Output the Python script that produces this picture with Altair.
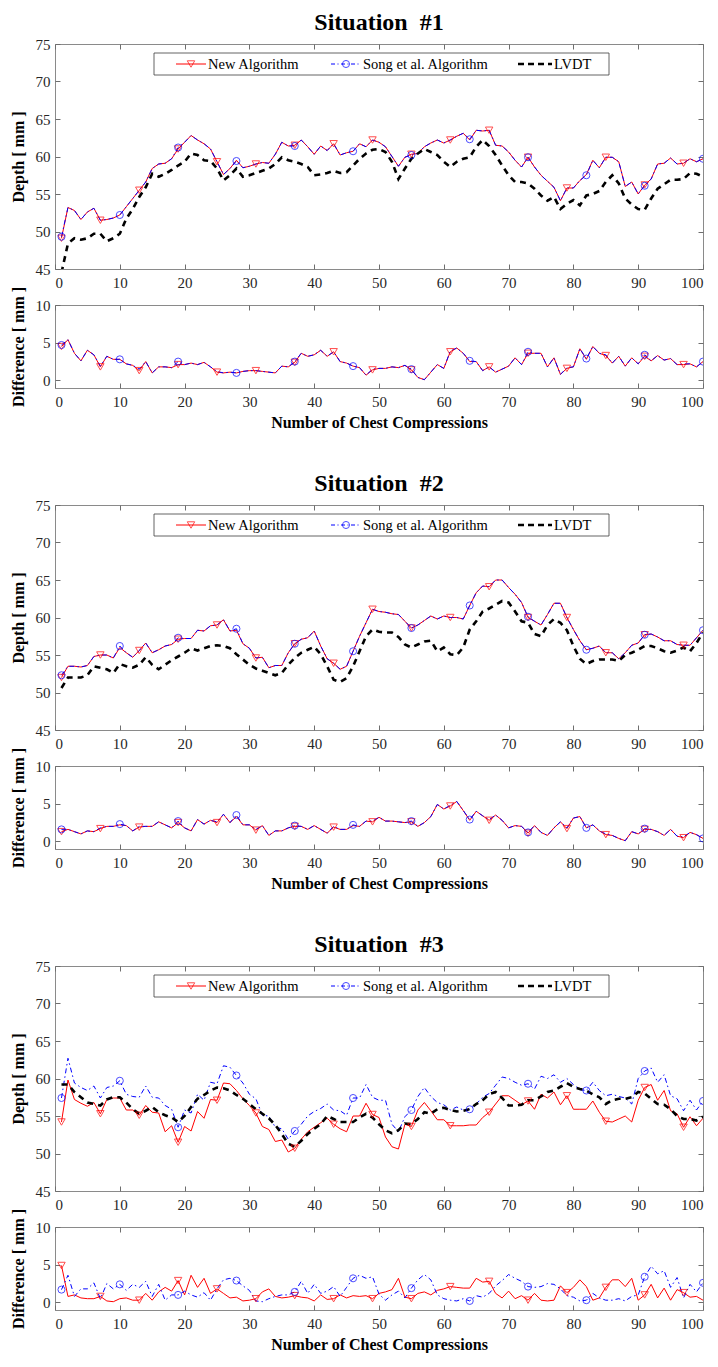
import altair as alt
import pandas as pd

FONT = "Liberation Serif"
RED = "#ff0000"
BLUE = "#0000ff"

X = list(range(1, 101))
X_TICKS = list(range(0, 101, 10))
DEPTH_TICKS = [45, 50, 55, 60, 65, 70, 75]
DIFF_TICKS = [0, 5, 10]
LEGEND_LABELS = ["New Algorithm", "Song et al. Algorithm", "LVDT"]
TITLES = ["Situation\u00a0\u00a0#1", "Situation\u00a0\u00a0#2", "Situation\u00a0\u00a0#3"]

# ---------------- Situation 1 ----------------
s1_new = [49.1, 53.2, 52.8, 51.6, 52.6, 53.1, 51.5, 51.6, 51.8, 52.2,
          53.3, 54.4, 55.5, 56.6, 58.4, 59.0, 59.1, 59.7, 61.0, 61.9,
          62.8, 62.2, 61.7, 61.0, 59.3, 57.6, 58.4, 59.5, 58.5, 58.7,
          59.0, 59.2, 59.1, 60.3, 61.9, 61.4, 61.5, 62.2, 61.3, 60.3,
          61.4, 60.8, 61.7, 60.2, 60.5, 60.7, 61.7, 61.3, 62.2, 61.9,
          61.3, 60.0, 58.7, 59.9, 60.3, 60.4, 61.3, 61.8, 62.2, 61.8,
          62.2, 62.7, 63.1, 62.2, 63.5, 63.4, 63.5, 61.5, 61.4, 60.6,
          59.5, 58.6, 59.9, 58.6, 57.5, 56.7, 55.9, 54.1, 55.8, 55.8,
          56.8, 57.6, 59.5, 58.5, 59.9, 59.9, 59.3, 56.0, 56.6, 55.0,
          56.2, 57.0, 59.0, 59.1, 59.8, 59.0, 59.1, 59.7, 59.3, 59.7]
s1_song = [49.3, 53.2, 52.8, 51.6, 52.6, 53.1, 51.5, 51.6, 51.8, 52.2,
           53.3, 54.4, 55.5, 56.6, 58.4, 59.0, 59.1, 59.7, 61.2, 61.9,
           62.8, 62.2, 61.7, 61.0, 59.3, 57.6, 58.4, 59.4, 58.5, 58.7,
           59.0, 59.2, 59.1, 60.3, 61.9, 61.4, 61.4, 62.2, 61.3, 60.3,
           61.4, 60.8, 61.7, 60.2, 60.5, 60.7, 61.7, 61.3, 62.2, 61.9,
           61.3, 60.0, 58.7, 59.9, 60.2, 60.4, 61.3, 61.8, 62.2, 61.8,
           62.2, 62.7, 63.1, 62.3, 63.5, 63.4, 63.5, 61.5, 61.4, 60.6,
           59.5, 58.6, 59.9, 58.6, 57.5, 56.7, 55.9, 54.1, 55.8, 55.8,
           56.8, 57.5, 59.5, 58.5, 59.9, 59.9, 59.3, 56.0, 56.6, 55.0,
           56.1, 57.0, 59.0, 59.1, 59.8, 59.0, 59.1, 59.7, 59.3, 59.7]
s1_lvdt = [44.5, 48.4, 49.1, 48.9, 49.1, 49.7, 49.7, 48.7, 49.1, 49.7,
           51.7, 53.0, 54.6, 55.9, 57.7, 57.3, 57.7, 58.2, 58.8, 59.3,
           60.4, 60.2, 59.5, 59.4, 58.4, 56.8, 57.5, 58.4, 57.3, 57.5,
           57.8, 58.1, 58.4, 59.0, 59.9, 59.5, 59.3, 59.0, 58.6, 57.5,
           57.6, 57.8, 58.1, 57.8, 57.9, 58.8, 59.7, 60.4, 60.9, 61.0,
           60.6, 59.3, 57.0, 58.4, 59.7, 60.4, 61.0, 60.6, 60.2, 59.3,
           58.6, 59.3, 59.7, 59.9, 61.3, 62.2, 61.4, 60.2, 58.8, 57.5,
           56.6, 56.6, 56.4, 55.7, 54.8, 54.1, 54.6, 53.0, 53.7, 54.2,
           53.5, 54.8, 55.0, 55.4, 56.6, 57.5, 56.4, 54.4, 53.6, 53.0,
           52.9, 54.4, 55.7, 56.3, 56.9, 56.9, 57.0, 57.8, 57.7, 57.3]
s1_dnew = [4.5, 5.4, 3.6, 2.6, 4.0, 3.4, 1.8, 3.2, 2.8, 2.8,
           2.2, 2.0, 1.3, 2.5, 1.0, 1.8, 1.8, 1.7, 2.1, 2.1,
           2.3, 2.1, 2.4, 1.8, 1.1, 1.0, 1.1, 1.0, 1.2, 1.3,
           1.3, 1.2, 1.1, 1.0, 1.9, 1.8, 2.4, 3.6, 3.2, 3.4,
           4.0, 3.2, 3.8, 2.5, 2.3, 1.9, 1.7, 0.7, 1.4, 1.6,
           1.6, 1.8, 1.7, 2.0, 1.4, 0.4, 0.1, 1.1, 2.1, 1.6,
           3.8, 4.3, 3.6, 2.5, 2.5, 1.3, 1.8, 1.1, 1.5, 1.9,
           3.0, 2.1, 3.6, 3.6, 3.6, 1.8, 3.0, 0.8, 1.6, 1.8,
           4.2, 2.8, 4.5, 3.6, 3.3, 2.3, 3.2, 1.9, 3.0, 2.2,
           3.2, 2.6, 3.3, 2.7, 2.9, 2.1, 2.1, 2.2, 1.8, 2.5]
s1_dsong = [4.7, 5.4, 3.6, 2.6, 4.0, 3.4, 1.9, 3.2, 2.8, 2.8,
            2.2, 2.0, 1.5, 2.5, 1.0, 1.8, 1.8, 1.7, 2.5, 2.1,
            2.3, 2.1, 2.4, 1.8, 1.2, 1.0, 1.1, 1.0, 1.2, 1.3,
            1.3, 1.2, 1.1, 1.0, 1.9, 1.8, 2.5, 3.6, 3.2, 3.4,
            4.0, 3.2, 3.8, 2.5, 2.3, 1.9, 1.7, 0.7, 1.5, 1.6,
            1.6, 1.8, 1.7, 2.0, 1.5, 0.4, 0.1, 1.1, 2.1, 1.6,
            3.9, 4.3, 3.6, 2.6, 2.5, 1.3, 1.8, 1.1, 1.5, 1.9,
            3.0, 2.1, 3.8, 3.6, 3.6, 1.8, 3.0, 0.8, 1.7, 1.8,
            4.2, 2.9, 4.5, 3.6, 3.4, 2.3, 3.2, 1.9, 3.0, 2.2,
            3.4, 2.6, 3.3, 2.7, 2.9, 2.1, 2.2, 2.2, 1.8, 2.5]

# ---------------- Situation 2 ----------------
s2_new = [52.0, 53.5, 53.5, 53.4, 53.6, 54.8, 55.0, 55.0, 54.6, 56.0,
          55.3, 54.7, 55.6, 56.6, 55.3, 55.7, 56.2, 56.4, 57.1, 57.2,
          57.2, 58.3, 58.2, 58.9, 59.0, 59.7, 58.2, 58.3, 56.5, 55.9,
          54.6, 54.7, 53.3, 53.6, 53.6, 55.3, 56.5, 57.1, 57.3, 58.2,
          56.2, 54.5, 53.9, 53.1, 53.5, 55.5, 57.5, 59.3, 61.1, 60.8,
          60.7, 60.5, 60.4, 59.5, 58.6, 59.0, 59.6, 60.2, 59.8, 60.2,
          60.0, 60.0, 59.8, 61.6, 63.3, 64.2, 64.1, 65.0, 65.0, 64.0,
          63.1, 62.0, 60.0, 59.5, 59.0, 60.4, 61.9, 61.9, 60.0, 58.4,
          56.9, 55.7, 55.9, 56.2, 55.3, 55.3, 54.5, 55.3, 56.3, 56.6,
          57.7, 57.8, 57.4, 56.9, 56.9, 56.4, 56.3, 56.3, 57.3, 58.3]
s2_song = [52.3, 53.5, 53.5, 53.4, 53.6, 54.8, 55.0, 55.0, 54.6, 56.2,
           55.3, 54.7, 55.6, 56.6, 55.3, 55.7, 56.2, 56.4, 57.3, 57.2,
           57.2, 58.3, 58.2, 58.9, 59.0, 59.7, 58.2, 58.5, 56.5, 55.9,
           54.6, 54.7, 53.3, 53.6, 53.6, 55.3, 56.5, 57.1, 57.3, 58.2,
           56.2, 54.5, 53.9, 53.1, 53.5, 55.5, 57.5, 59.3, 61.1, 60.8,
           60.7, 60.5, 60.4, 59.5, 58.6, 59.0, 59.6, 60.2, 59.8, 60.2,
           60.0, 60.0, 59.8, 61.6, 63.3, 64.2, 64.1, 65.0, 65.0, 64.0,
           63.1, 62.0, 60.1, 59.5, 59.0, 60.4, 61.9, 61.9, 60.0, 58.4,
           56.9, 55.7, 55.9, 56.2, 55.3, 55.3, 54.5, 55.3, 56.3, 56.6,
           57.7, 57.8, 57.4, 56.9, 56.9, 56.4, 56.3, 56.3, 57.3, 58.3]
s2_lvdt = [50.6, 52.0, 52.0, 52.0, 52.3, 53.5, 53.3, 53.1, 52.6, 53.8,
           53.5, 53.3, 53.7, 54.7, 53.7, 53.1, 53.7, 54.3, 54.8, 55.3,
           55.9, 55.6, 55.9, 56.2, 56.3, 56.2, 55.9, 55.1, 54.4, 53.7,
           53.2, 52.9, 52.6, 52.3, 52.6, 53.7, 54.6, 55.3, 55.7, 56.1,
           55.1, 53.5, 51.7, 51.4, 51.9, 53.5, 55.5, 57.5, 58.4, 58.1,
           58.0, 58.0, 57.4, 56.4, 56.0, 56.4, 56.8, 56.9, 55.5, 56.0,
           55.1, 55.0, 56.0, 58.4, 59.5, 60.8, 61.2, 61.7, 62.2, 62.0,
           60.8, 59.5, 59.3, 57.8, 57.5, 59.0, 59.8, 59.3, 58.3, 56.2,
           54.5, 53.8, 54.2, 54.4, 54.4, 54.4, 54.2, 55.0, 55.3, 55.7,
           56.2, 56.2, 55.9, 55.5, 55.3, 55.6, 56.0, 55.5, 56.6, 58.0]
s2_dnew = [1.3, 1.6, 1.3, 1.0, 1.4, 1.3, 1.7, 2.0, 2.0, 2.2,
           2.1, 1.4, 1.9, 2.0, 2.0, 2.6, 2.2, 1.8, 2.5, 1.8,
           1.4, 2.9, 2.3, 2.8, 2.5, 3.6, 2.5, 3.3, 2.2, 2.2,
           1.5, 2.1, 0.8, 1.4, 1.4, 1.8, 2.0, 2.0, 1.6, 2.1,
           1.6, 1.1, 1.9, 1.6, 1.6, 2.1, 2.0, 2.7, 2.6, 3.2,
           2.7, 2.7, 2.6, 2.5, 2.6, 2.0, 2.5, 3.3, 4.9, 4.3,
           4.7, 5.3, 4.1, 2.8, 4.0, 3.4, 2.8, 3.5, 2.8, 1.8,
           2.1, 2.0, 1.1, 2.1, 1.2, 0.8, 1.8, 2.6, 1.7, 3.1,
           3.3, 1.8, 2.2, 1.4, 0.9, 0.8, 0.4, 0.1, 1.3, 1.0,
           1.6, 1.6, 1.3, 0.8, 1.6, 0.7, 0.5, 1.2, 0.9, 0.4]
s2_dsong = [1.6, 1.6, 1.3, 1.0, 1.4, 1.3, 1.8, 2.0, 2.0, 2.3,
            2.1, 1.4, 2.0, 2.0, 2.0, 2.6, 2.2, 1.8, 2.7, 1.8,
            1.4, 2.9, 2.3, 2.8, 2.6, 3.6, 2.5, 3.5, 2.2, 2.2,
            1.6, 2.1, 0.8, 1.4, 1.4, 1.8, 2.1, 2.0, 1.6, 2.1,
            1.6, 1.1, 2.0, 1.6, 1.6, 2.2, 2.0, 2.7, 2.7, 3.2,
            2.7, 2.7, 2.6, 2.5, 2.7, 2.0, 2.5, 3.3, 4.9, 4.3,
            4.8, 5.3, 4.1, 2.9, 4.0, 3.4, 2.9, 3.5, 2.8, 1.8,
            2.1, 2.0, 1.2, 2.1, 1.2, 0.8, 1.8, 2.6, 1.8, 3.1,
            3.3, 1.8, 2.2, 1.4, 1.0, 0.8, 0.4, 0.1, 1.3, 1.0,
            1.7, 1.6, 1.3, 0.8, 1.6, 0.7, 0.6, 1.2, 0.9, 0.4]

# ---------------- Situation 3 ----------------
s3_new = [54.2, 59.8, 57.2, 56.7, 56.3, 56.8, 55.3, 57.2, 57.4, 57.4,
          55.8, 55.8, 55.1, 56.4, 55.5, 55.4, 52.9, 53.7, 51.5, 53.6,
          53.0, 55.6, 54.7, 57.2, 57.1, 59.4, 59.3, 58.4, 57.3, 56.4,
          55.4, 53.6, 53.2, 51.6, 51.8, 50.2, 50.7, 51.9, 52.9, 53.5,
          54.1, 54.7, 53.9, 53.3, 52.9, 55.0, 55.0, 56.7, 55.2, 54.8,
          52.2, 50.9, 50.6, 53.9, 53.6, 55.8, 56.8, 55.7, 54.5, 54.5,
          53.7, 53.7, 53.7, 53.8, 53.8, 54.8, 55.5, 56.6, 57.7, 57.7,
          57.1, 56.5, 57.0, 55.9, 57.9, 57.4, 58.2, 56.5, 57.7, 55.9,
          55.9, 55.9, 57.0, 55.5, 54.3, 54.2, 54.6, 55.0, 54.2, 57.1,
          58.8, 59.2, 57.1, 58.4, 55.7, 55.3, 53.5, 54.9, 53.7, 54.7]
s3_song = [57.4, 62.7, 59.4, 58.8, 58.4, 59.0, 57.4, 58.8, 59.0, 59.7,
           57.9, 57.6, 57.5, 59.0, 57.5, 57.4, 56.4, 55.9, 53.5, 55.8,
           55.4, 57.9, 57.1, 59.5, 59.3, 61.7, 61.5, 60.4, 59.4, 57.9,
           57.3, 55.1, 55.0, 53.5, 53.3, 51.9, 53.0, 53.9, 55.0, 55.6,
           56.0, 56.6, 55.8, 55.7, 55.1, 57.4, 57.4, 59.2, 57.5, 57.1,
           57.1, 53.9, 52.9, 54.9, 55.8, 57.6, 58.8, 57.6, 56.8, 56.5,
           55.8, 56.2, 55.8, 55.9, 56.6, 57.5, 58.0, 59.1, 60.2, 60.0,
           59.5, 59.1, 59.3, 58.6, 60.3, 60.0, 60.5, 59.5, 60.0, 59.2,
           58.5, 58.4, 59.5, 58.4, 57.7, 57.9, 57.6, 57.4, 56.6, 60.0,
           61.0, 61.4, 59.5, 60.5, 57.7, 57.3, 55.7, 57.1, 55.8, 57.0]
s3_lvdt = [59.2, 59.2, 58.2, 57.5, 56.8, 56.6, 56.4, 57.2, 57.5, 57.5,
           56.8, 55.9, 55.3, 55.7, 56.2, 55.5, 55.1, 54.8, 54.2, 55.0,
           56.2, 57.3, 57.8, 58.4, 58.8, 58.7, 58.4, 57.8, 57.3, 56.6,
           55.9, 55.3, 54.7, 53.8, 52.6, 51.3, 50.9, 51.7, 52.6, 53.3,
           53.9, 55.0, 54.6, 54.2, 54.2, 54.2, 54.8, 55.3, 54.8, 53.9,
           53.1, 52.7, 53.1, 54.0, 53.9, 54.6, 55.5, 55.3, 55.9, 56.1,
           55.8, 55.6, 55.7, 55.9, 56.6, 57.1, 57.9, 58.2, 57.4, 56.4,
           56.4, 56.5, 57.1, 57.1, 57.6, 58.2, 58.4, 58.9, 59.4, 58.9,
           58.6, 58.4, 57.9, 57.5, 56.6, 57.1, 57.3, 57.3, 57.5, 58.2,
           58.0, 57.3, 56.6, 56.5, 55.9, 55.0, 54.6, 54.6, 54.4, 54.9]
s3_dnew = [4.9, 0.8, 1.0, 0.6, 0.5, 0.5, 0.8, 0.2, 0.1, 0.5,
           0.6, 0.3, 0.3, 1.2, 0.3, 1.4, 2.0, 1.5, 2.9, 1.0,
           3.6, 2.0, 3.2, 1.2, 1.8, 1.2, 0.6, 0.7, 0.2, 0.3,
           0.5, 1.4, 1.8, 0.8, 0.6, 0.7, 0.9, 0.7, 0.6, 0.2,
           1.0, 0.4, 0.5, 1.0, 0.6, 0.9, 0.8, 0.9, 0.5, 1.2,
           1.4, 1.7, 3.2, 0.7, 0.5, 1.2, 1.4, 1.0, 1.6, 1.8,
           2.1, 2.0, 1.9, 1.9, 3.2, 2.7, 2.8, 1.2, 0.6, 1.5,
           0.5, 0.9, 0.3, 1.2, 0.3, 0.2, 0.3, 2.2, 1.3, 2.0,
           3.0, 2.1, 0.3, 0.6, 2.0, 3.0, 3.0, 2.1, 3.2, 0.3,
           1.0, 2.4, 0.6, 1.9, 0.3, 1.7, 1.3, 0.7, 0.8, 0.3]
s3_dsong = [1.7, 3.6, 0.8, 1.8, 1.8, 2.6, 0.5, 2.5, 1.8, 2.4,
            1.6, 2.4, 2.0, 2.8, 0.8, 2.4, 0.3, 1.0, 1.0, 1.5,
            1.0, 0.7, 1.3, 0.3, 1.8, 3.0, 3.2, 2.9, 2.2, 1.6,
            0.2, 0.1, 0.5, 0.8, 1.0, 1.0, 1.4, 2.8, 1.2, 2.4,
            1.2, 1.5, 2.1, 0.8, 2.0, 3.2, 3.6, 3.2, 3.4, 1.1,
            0.3, 1.0, 1.5, 0.6, 1.9, 3.0, 3.7, 3.0, 1.0, 0.5,
            0.3, 0.2, 0.5, 0.2, 0.9, 0.7, 1.2, 2.2, 2.9, 3.7,
            3.2, 2.8, 2.1, 2.0, 2.1, 2.5, 2.4, 1.8, 0.9, 0.7,
            0.2, 0.3, 1.2, 0.6, 0.3, 0.3, 0.5, 0.2, 0.8, 1.0,
            3.4, 4.8, 3.8, 4.2, 2.0, 3.3, 0.6, 2.4, 1.4, 2.6]

# ---------------- styling helpers ----------------
W = 648
H_DEPTH = 225
H_DIFF = 83
LABELS = dict(labelFont=FONT, labelFontSize=15, labelColor="#262626")
TICKS = dict(tickColor="#6e6e6e", tickSize=5, tickWidth=1, domain=False,
             grid=False, offset=-5)
TITLE_STYLE = dict(titleFont=FONT, titleFontSize=16, titleFontWeight="bold",
                   titleColor="black")

XS = alt.Scale(domain=[0, 100], nice=False, zero=False)


def x_main(title=None):
    return alt.X("x:Q", scale=XS, axis=alt.Axis(values=X_TICKS, labelPadding=6,
                                                title=title, titlePadding=5,
                                                format="d", **LABELS, **TICKS,
                                                **TITLE_STYLE))


def x_top():
    return alt.X("x:Q", scale=XS, axis=alt.Axis(orient="top", values=X_TICKS,
                                                labels=False, title=None, **TICKS))


def x_none():
    return alt.X("x:Q", scale=XS, axis=None)


def y_main(field, ys, vals, title):
    return alt.Y(f"{field}:Q", scale=ys, axis=alt.Axis(values=vals, labelPadding=5,
                                                      title=title, titlePadding=9,
                                                      format="d", **LABELS, **TICKS,
                                                      **TITLE_STYLE))


def y_right(field, ys, vals):
    return alt.Y(f"{field}:Q", scale=ys, axis=alt.Axis(orient="right", values=vals,
                                                      labels=False, title=None, **TICKS))


def y_none(field, ys):
    return alt.Y(f"{field}:Q", scale=ys, axis=None)


def legend_layers():
    one = alt.Chart(pd.DataFrame({"k": [0]}))
    box = one.mark_rect(fill="white", stroke="#3c3c3c", strokeWidth=0.8).encode(
        x=alt.value(99), x2=alt.value(554), y=alt.value(9), y2=alt.value(31))
    ly = 20
    l1 = one.mark_rule(color=RED, strokeWidth=1).encode(
        x=alt.value(121), x2=alt.value(151), y=alt.value(ly))
    p1 = one.mark_point(shape="triangle-down", color=RED, filled=False, size=55,
                        strokeWidth=1).encode(x=alt.value(136), y=alt.value(ly))
    t1 = one.mark_text(text=LEGEND_LABELS[0], align="left", baseline="middle",
                       font=FONT, fontSize=14.5, color="black").encode(
        x=alt.value(153), y=alt.value(ly + 1))
    l2 = one.mark_rule(color=BLUE, strokeWidth=1, strokeDash=[4, 2.5, 1, 2.5]).encode(
        x=alt.value(276), x2=alt.value(306), y=alt.value(ly))
    p2 = one.mark_point(shape="circle", color=BLUE, filled=False, size=50,
                        strokeWidth=1).encode(x=alt.value(291), y=alt.value(ly))
    t2 = one.mark_text(text=LEGEND_LABELS[1], align="left", baseline="middle",
                       font=FONT, fontSize=14.5, color="black").encode(
        x=alt.value(308), y=alt.value(ly + 1))
    l3 = one.mark_rule(color="black", strokeWidth=2.5, strokeDash=[6, 4]).encode(
        x=alt.value(463), x2=alt.value(497), y=alt.value(ly))
    t3 = one.mark_text(text=LEGEND_LABELS[2], align="left", baseline="middle",
                       font=FONT, fontSize=14.5, color="black").encode(
        x=alt.value(499), y=alt.value(ly + 1))
    return [box, l1, p1, t1, l2, p2, t2, l3, t3]


def depth_panel(title, new, song, lvdt):
    df = pd.DataFrame({"x": X, "New": new, "Song": song, "LVDT": lvdt})
    ys = alt.Scale(domain=[45, 75], nice=False, zero=False)
    base = alt.Chart(df)
    red = base.mark_line(color=RED, strokeWidth=1, clip=True).encode(
        x=x_top(), y=y_right("New", ys, DEPTH_TICKS))
    blue = base.mark_line(color=BLUE, strokeWidth=1, strokeDash=[5, 3, 1.5, 3],
                          clip=True).encode(x=x_none(), y=y_none("Song", ys))
    black = base.mark_line(color="black", strokeWidth=2.6, strokeDash=[6, 5],
                           clip=True).encode(
        x=x_main(), y=y_main("LVDT", ys, DEPTH_TICKS, "Depth [ mm ]"))
    tri = base.transform_filter("(datum.x - 1) % 6 == 0").mark_point(
        shape="triangle-down", color=RED, filled=False, size=55, strokeWidth=1,
        clip=True).encode(x=x_none(), y=y_none("New", ys))
    circ = base.transform_filter("(datum.x - 1) % 9 == 0").mark_point(
        shape="circle", color=BLUE, filled=False, size=50, strokeWidth=1,
        clip=True).encode(x=x_none(), y=y_none("Song", ys))
    layers = [red, blue, black, tri, circ] + legend_layers()
    return alt.layer(*layers).resolve_axis(x="independent", y="independent").properties(
        width=W, height=H_DEPTH,
        title=alt.TitleParams(text=title, font=FONT, fontSize=24, fontWeight="bold",
                              color="black", anchor="middle", frame="group", offset=2))


def diff_panel(dnew, dsong):
    df = pd.DataFrame({"x": X, "New": dnew, "Song": dsong})
    ys = alt.Scale(domain=[-1, 10], nice=False, zero=False)
    base = alt.Chart(df)
    red = base.mark_line(color=RED, strokeWidth=1, clip=True).encode(
        x=x_top(), y=y_right("New", ys, DIFF_TICKS))
    blue = base.mark_line(color=BLUE, strokeWidth=1, strokeDash=[5, 3, 1.5, 3],
                          clip=True).encode(
        x=x_main("Number of Chest Compressions"),
        y=y_main("Song", ys, DIFF_TICKS, "Difference [ mm ]"))
    tri = base.transform_filter("(datum.x - 1) % 6 == 0").mark_point(
        shape="triangle-down", color=RED, filled=False, size=55, strokeWidth=1,
        clip=True).encode(x=x_none(), y=y_none("New", ys))
    circ = base.transform_filter("(datum.x - 1) % 9 == 0").mark_point(
        shape="circle", color=BLUE, filled=False, size=50, strokeWidth=1,
        clip=True).encode(x=x_none(), y=y_none("Song", ys))
    return alt.layer(red, blue, tri, circ).resolve_axis(
        x="independent", y="independent").properties(width=W, height=H_DIFF)


def situation(title, new, song, lvdt, dnew, dsong):
    return alt.vconcat(depth_panel(title, new, song, lvdt), diff_panel(dnew, dsong),
                       spacing=36, bounds="flush")


chart = alt.vconcat(
    situation(TITLES[0], s1_new, s1_song, s1_lvdt, s1_dnew, s1_dsong),
    situation(TITLES[1], s2_new, s2_song, s2_lvdt, s2_dnew, s2_dsong),
    situation(TITLES[2], s3_new, s3_song, s3_lvdt, s3_dnew, s3_dsong),
    spacing=40,
).properties(
    padding={"left": 9, "top": 10, "right": 0, "bottom": 0},
    background="white",
).configure_view(stroke="#8a8a8a", strokeWidth=1)

chart.save("out.html", embed_options={"renderer": "svg", "actions": False})
